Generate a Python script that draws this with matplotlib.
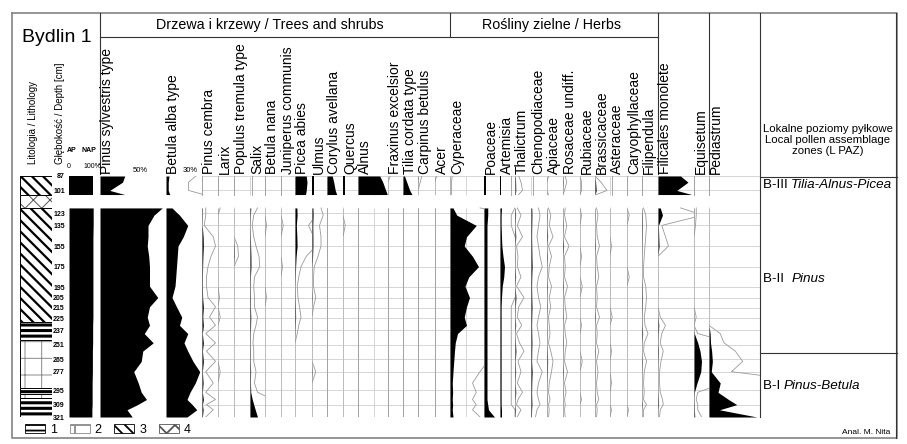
import numpy as np
import matplotlib.pyplot as plt
from matplotlib.patches import Patch

W, H = 907, 444
plt.rcParams['font.family'] = ['Liberation Sans', 'DejaVu Sans']
plt.rcParams['hatch.linewidth'] = 0.9

# sample depths [cm]: upper block 87-105, main block 118-321
depth = [87, 93, 101, 105,
         118, 125, 135, 146, 155, 165, 175, 185, 194, 205, 214, 224,
         232, 240, 249, 257, 267, 277, 288, 297, 304, 309, 314, 321]
blocks = [(0, 4), (4, 28)]
depth_labels = [87, 101, 123, 135, 155, 175, 195, 205, 215, 225, 237, 251,
                265, 277, 295, 309, 321]

ap = [92, 92, 92, 92, 93, 93, 93, 92, 92, 92, 92, 92, 92, 92, 92, 92,
      91, 91, 91, 90, 90, 90, 89, 89, 89, 89, 88, 88]

pinus = [33, 30, 13, 33, 83, 72, 64, 64, 63, 65, 66, 66, 66, 77, 66, 63,
         66, 59, 71, 57, 55, 45, 51, 55, 62, 50, 36, 43]
betula = [4, 3, 3, 5, 8, 18, 29, 23, 16, 15, 14, 13, 12, 8, 14, 21,
          18, 29, 24, 29, 36, 45, 39, 32, 28, 35, 41, 28]
pinus_cembra = [0, 0, 0, 0, 0.5, 0.5, 0.3, 1.5, 1.8, 1.2, 0.8, 0.6, 0.6, 0.8, 1.8, 1.0,
                1.8, 0.5, 1.8, 0.6, 1.8, 0.5, 1.5, 0.5, 1.8, 0.6, 1.5, 0.5]
larix = [0, 0, 0, 0, 0.3, 0, 0, 0, 0, 0, 0, 0, 0, 0.2, 0, 0.3,
         0, 0, 0, 0, 0, 0.3, 0, 0, 0, 0, 0, 0]
populus = [0, 0, 0, 0, 0, 0, 0, 0, 0.5, 0.6, 0, 0, 0, 0, 0, 0,
           0, 0, 0, 0, 0, 0, 0, 0, 0, 0, 0, 0]
salix = [0.3, 0.3, 0.3, 0.3, 1.0, 0.5, 0.3, 0.5, 0.8, 1.2, 1.3, 0.6, 0.5, 0.6, 0.6, 1.0,
         0.8, 0.5, 0.4, 0.5, 0.5, 0.8, 0.6, 1.0, 3, 5, 7, 10]
betula_nana = [0, 0, 0, 0, 0, 0, 0.2, 0, 0, 0, 0, 0, 0, 0.2, 0, 0,
               0, 0, 0, 0, 0, 0, 0, 0, 0, 0, 0, 0]
juniperus = [0, 0, 0, 0, 0, 0, 0.3, 0, 0, 0, 0.2, 0, 0, 0, 0, 0,
             0, 0, 0, 0, 0, 0, 0, 0, 0, 0, 0, 0]
picea = [15, 16, 15, 14, 2.5, 2.8, 1.8, 2.5, 2.8, 1.5, 0.8, 0.5, 0.3, 0.4, 0.6, 0.8,
         0.5, 0.3, 0, 0, 0, 0, 0, 0, 0, 0, 0, 0]
ulmus = [2, 2, 2, 2, 1.2, 1.5, 1.0, 1.2, 1.2, 0.8, 0.3, 0.2, 0.2, 0.5, 0.2, 0,
         0, 0, 0, 0, 0, 0.5, 0, 0, 0, 0, 0, 0]
corylus = [7, 9, 11, 13, 0, 0, 0, 0, 0, 0, 0, 0, 0, 0, 0, 0,
           0, 0, 0, 0, 0, 0, 0, 0, 0, 0, 0, 0]
quercus = [2, 2, 2, 2, 0, 0, 0.3, 0, 0, 0, 0, 0, 0, 0, 0, 0,
           0, 0, 0, 0, 0, 0, 0, 0, 0, 0, 0, 0]
alnus = [29, 33, 37, 39, 0, 0, 0, 0, 0, 0, 0, 0, 0, 0, 0, 0,
         0, 0, 0, 0, 0, 0, 0, 0, 0, 0, 0, 0]
fraxinus = [0.3, 0, 0, 0, 0, 0, 0, 0, 0, 0, 0, 0, 0, 0, 0, 0,
            0, 0, 0, 0, 0, 0, 0, 0, 0, 0, 0, 0]
tilia = [2, 5, 9, 12, 0, 0, 0, 0, 0, 0, 0, 0, 0, 0, 0, 0,
         0, 0, 0, 0, 0, 0, 0, 0, 0, 0, 0, 0]
carpinus = [0.5, 0.3, 0, 0, 0, 0, 0, 0, 0, 0, 0, 0, 0, 0, 0, 0,
            0, 0, 0, 0, 0, 0, 0, 0, 0, 0, 0, 0]
acer = [0.2, 0, 0, 0, 0, 0, 0, 0, 0, 0, 0, 0, 0, 0, 0, 0,
        0, 0, 0, 0, 0, 0, 0, 0, 0, 0, 0, 0]
cyperaceae = [0.3, 0.2, 0.2, 0.2, 4, 9, 35, 22, 19, 30, 38, 25, 20, 26, 22, 19,
              22, 10, 7, 6, 5, 4, 3, 3.5, 3, 3.5, 3, 4]
poaceae = [3, 3, 3, 3, 5, 5, 4, 4, 4, 4, 4, 4, 4, 4, 4, 4,
           4, 4, 4, 4, 4, 4, 4, 4, 4, 5, 6, 14]
artemisia = [1.5, 1.5, 1.5, 1.5, 2, 1.5, 1.5, 2, 2.5, 4, 6, 5, 3, 2, 1.5, 1.5,
             1.5, 1.5, 1.5, 1.5, 1.5, 1.5, 1.5, 1.5, 1.5, 1.5, 2, 2]
thalictrum = [0.5, 0.8, 1.0, 0.5, 0.3, 0.8, 0.3, 1.0, 0.2, 0.4, 0.3, 0.8, 0.2, 1.2, 0.5, 0.3,
              0.9, 0.2, 0.6, 1.2, 0.4, 0.8, 0.3, 1.0, 0.4, 0.2, 0.8, 0.3]
chenopodiaceae = [0.2, 0.2, 0.2, 0.2, 1.0, 1.2, 1.0, 0.8, 1.0, 1.2, 1.5, 1.0, 0.8, 1.0, 1.3, 1.0,
                  0.8, 1.0, 1.2, 1.0, 0.8, 1.5, 1.0, 0.8, 1.0, 1.2, 0.8, 0.6]
apiaceae = [0.2, 0, 0, 0.2, 0.2, 0.5, 0.3, 0.8, 0.2, 0.6, 0.3, 0.2, 0.6, 0.3, 0.5, 0.2,
            0.3, 0.4, 0.2, 0.5, 0.8, 0.6, 0.3, 0.2, 0.4, 0.2, 0.3, 0.2]
rosaceae = [0.3, 0.5, 0.2, 0, 0.3, 0.2, 0.5, 0.2, 0.8, 0.2, 0.3, 0.2, 0.6, 0.2, 0.3, 0.5,
            0.2, 0.3, 0.5, 0.3, 0.2, 0.6, 0.2, 0.4, 0.2, 0.3, 0.2, 0.3]
rubiaceae = [0, 0.2, 0.2, 0, 0, 0.2, 0, 0, 0, 0.2, 0, 0, 0.3, 0, 0, 0,
             0.2, 0, 0, 0, 0.3, 0, 0, 0, 0.2, 0, 0, 0]
brassicaceae = [0, 0.8, 1.6, 0.2, 0.2, 0.4, 0.2, 0.3, 0.6, 0.2, 0.3, 0.5, 0.2, 0.3, 0.2, 0.6,
                0.2, 0.3, 0.2, 0.5, 0.2, 0.4, 0.2, 0.3, 0.5, 0.2, 0.3, 0.2]
asteraceae = [0.2, 0.2, 0.2, 0.2, 0, 0, 0, 0, 0.2, 0, 0, 0, 0, 0, 0, 0.3,
              0, 0, 0, 0.2, 0, 0, 0.2, 0, 0, 0, 0.2, 0]
caryophyllaceae = [0, 0, 0, 0, 0, 0.3, 0, 0, 0, 0, 0, 0.3, 0, 0, 0, 0,
                   0, 0, 0, 0, 0, 0, 0, 0, 0, 0, 0.2, 0]
filipendula = [0, 0, 0, 0, 0.2, 0.5, 0.6, 0.5, 0.4, 0.3, 0.2, 0.2, 0.5, 0.6, 0.5, 0.3,
               0.4, 0.8, 0.3, 0.2, 0.6, 0.3, 0.2, 0.3, 0.2, 0.6, 0.2, 0.2]
filicales = [30, 40, 25, 45, 3, 6, 0.5, 1.0, 1.4, 0, 0, 0, 0, 0, 0, 0.3,
             1.0, 0.5, 0.3, 0.7, 0.4, 0.2, 0.2, 0.3, 0.6, 0.7, 0.3, 0.2]
equisetum = [0, 0, 0, 0, 0.3, 0.3, 0.2, 0, 0, 0, 0, 0, 0, 0, 0, 0.3,
             0, 0.5, 5, 8, 10, 9, 4, 0.5, 0.3, 0.5, 0.5, 1]
pediastrum = [0, 0, 0, 0, 0, 0, 0, 0, 0, 0, 0, 0, 0, 0, 0, 0,
              0, 1.5, 2, 3.5, 4.5, 3, 15, 12, 26, 37, 14, 64]

taxa = [
    ("Pinus sylvestris type", pinus), ("Betula alba type", betula),
    ("Pinus cembra", pinus_cembra), ("Larix", larix),
    ("Populus tremula type", populus), ("Salix", salix),
    ("Betula nana", betula_nana), ("Juniperus communis", juniperus),
    ("Picea abies", picea), ("Ulmus", ulmus), ("Corylus avellana", corylus),
    ("Quercus", quercus), ("Alnus", alnus), ("Fraxinus excelsior", fraxinus),
    ("Tilia cordata type", tilia), ("Carpinus betulus", carpinus),
    ("Acer", acer), ("Cyperaceae", cyperaceae), ("Poaceae", poaceae),
    ("Artemisia", artemisia), ("Thalictrum", thalictrum),
    ("Chenopodiaceae", chenopodiaceae), ("Apiaceae", apiaceae),
    ("Rosaceae undiff.", rosaceae), ("Rubiaceae", rubiaceae),
    ("Brassicaceae", brassicaceae), ("Asteraceae", asteraceae),
    ("Caryophyllaceae", caryophyllaceae), ("Filipendula", filipendula),
    ("Filicales monolete", filicales), ("Equisetum", equisetum),
    ("Pediastrum", pediastrum),
]

# lithology: (top, bottom, type)
litho = [(87, 105, 3), (105, 118, 4), (118, 229, 3), (229, 246, 1),
         (246, 293, 2), (293, 299, 1), (299, 303, 2), (303, 321, 1)]
litho_style = {1: ('black', '---', 2.2), 2: ('#8a8a8a', '+', 0.7),
               3: ('black', '\\\\\\', 1.6), 4: ('#555555', 'xx', 0.7)}

zones = [("B-III ", "Tilia-Alnus-Picea", 96), ("B-II  ", "Pinus", 187),
         ("B-I ", "Pinus-Betula", 291)]

# ---- layout (pixels) ----
col_x = [100, 166, 202, 218, 234, 250, 265, 281, 295, 312, 327, 343, 358,
         388, 403, 418, 435, 450, 484, 500, 515, 531, 547, 563, 580, 595,
         610, 627, 642, 658, 694, 709, 760]
px_per_pct = 0.75
y_top, y_bot = 176, 417
d_top, d_bot = 87, 321


def rect(x0, y0, x1, y1):
    return [x0 / W, 1 - y1 / H, (x1 - x0) / W, (y1 - y0) / H]


fig = plt.figure(figsize=(W / 100, H / 100), dpi=100)

frame = fig.add_axes([0, 0, 1, 1], zorder=-5)
frame.set_xlim(0, W)
frame.set_ylim(H, 0)
frame.axis('off')
frame.plot([12, 897, 897, 12, 12], [13, 13, 438, 438, 13], color='#8c8c8c', lw=1.3)
for xs, ys in [([100, 100], [13, 174]), ([100, 658], [37, 37]), ([450, 450], [13, 37]),
               ([658, 658], [13, 174]), ([709, 709], [13, 174]), ([760, 760], [13, 417]),
               ([760, 897], [177, 177]), ([760, 897], [353, 353]), ([896, 896], [13, 438])]:
    frame.plot(xs, ys, color='#333333', lw=0.8)

grid_c = '#cfcfcf'

# lithology column
axl = fig.add_axes(rect(20, y_top, 52, y_bot))
for top, bot, kind in litho:
    col, hat, hlw = litho_style[kind]
    with plt.rc_context({'hatch.linewidth': hlw}):
        axl.barh((top + bot) / 2, 1, height=bot - top, left=0, facecolor='white',
                 edgecolor=col, hatch=hat, linewidth=0)
    axl.barh((top + bot) / 2, 1, height=bot - top, left=0, facecolor='none',
             edgecolor='black', linewidth=0.7)
axl.set_xlim(0, 1)
axl.set_ylim(d_bot, d_top)
axl.axis('off')

# AP / NAP column with depth labels
axa = fig.add_axes(rect(69, y_top, 95, y_bot))
axa.set_xlim(0, 100)
axa.set_ylim(d_bot, d_top)
for a, b in blocks:
    d = depth[a:b]
    axa.fill_betweenx(d, 0, ap[a:b], color='black', lw=0)
    axa.vlines(100, d[0], d[-1], color='#bbbbbb', lw=0.6)
for s in axa.spines.values():
    s.set_visible(False)
axa.set_xticks([])
axa.set_yticks(depth_labels)
axa.set_yticklabels([str(v) for v in depth_labels], fontsize=5, fontweight='bold')
axa.tick_params(axis='y', length=0, pad=3)

# taxa columns
for i, (name, vals) in enumerate(taxa):
    x0, x1 = col_x[i], col_x[i + 1]
    ax = fig.add_axes(rect(x0, y_top, x1, y_bot))
    xmax = (x1 - x0) / px_per_pct
    ax.set_xlim(0, xmax)
    ax.set_ylim(d_bot, d_top)
    ax.axis('off')
    v = np.array(vals, dtype=float)
    minor = i >= 2
    for a, b in blocks:
        d = depth[a:b]
        if minor:
            ax.vlines(0, d[0], d[-1], color=grid_c, lw=0.6, zorder=0)
            if name in ("Alnus", "Cyperaceae"):
                ax.vlines(20.8, d[0], d[-1], color=grid_c, lw=0.6, zorder=0)
            inside = [g for g in depth_labels if d[0] <= g <= d[-1]]
            ax.hlines(inside, 0, xmax, color=grid_c, lw=0.6, zorder=0)
        ax.plot(v[a:b] * 10, d, color='#9a9a9a', lw=0.6, zorder=2)
        ax.fill_betweenx(d, 0, v[a:b], color='black', lw=0, zorder=3)
    fig.text(x0 / W, 1 - 174 / H, name, rotation=90, ha='left', va='bottom',
             fontsize=10)

# header texts
fig.text(22 / W, 1 - 37 / H, "Bydlin 1", fontsize=14, va='center', ha='left')
fig.text(270 / W, 1 - 25 / H, "Drzewa i krzewy / Trees and shrubs", fontsize=10.3,
         ha='center', va='center')
fig.text(551 / W, 1 - 25 / H, "Rośliny zielne / Herbs", fontsize=10.3,
         ha='center', va='center')
fig.text(28 / W, 1 - 164 / H, "Litologia / Lithology", rotation=90, fontsize=7,
         ha='left', va='bottom')
fig.text(55 / W, 1 - 164 / H, "Głębokość / Depth [cm]", rotation=90, fontsize=7,
         ha='left', va='bottom')
fig.text(67 / W, 1 - 150 / H, "AP", fontsize=5, fontweight='bold', va='center')
fig.text(82 / W, 1 - 150 / H, "NAP", fontsize=5, fontweight='bold', va='center')
fig.text(67 / W, 1 - 166 / H, "0", fontsize=5, va='center')
fig.text(83 / W, 1 - 166 / H, "100%", fontsize=5, va='center')
fig.text(133 / W, 1 - 171 / H, "50%", fontsize=5.5, va='center')
fig.text(183 / W, 1 - 171 / H, "30%", fontsize=5.5, va='center')
fig.text(828 / W, 1 - 140 / H,
         "Lokalne poziomy pyłkowe\nLocal pollen assemblage\nzones (L PAZ)",
         fontsize=8.2, ha='center', va='center', linespacing=1.15)

# zone names
axz = fig.add_axes(rect(760, y_top, 897, y_bot))
axz.set_xlim(0, 1)
axz.set_ylim(d_bot, d_top)
axz.axis('off')
for code, name, d in zones:
    fs = 9.7
    t = axz.text(0.02, d, code, fontsize=fs, va='center', ha='left')
    axz.annotate(name, xy=(1, 0.5), xycoords=t, va='center', ha='left',
                 fontsize=fs, style='italic')

fig.text(890 / W, 1 - 432 / H, "Anal. M. Nita", fontsize=6, ha='right', va='center')

handles = []
for k in (1, 2, 3, 4):
    col, hat, hlw = litho_style[k]
    handles.append(Patch(facecolor='white', edgecolor=col, hatch=hat, linewidth=0.6))
with plt.rc_context({'hatch.linewidth': 1.3}):
    fig.legend(handles, ['1', '2', '3', '4'], loc='center left',
               bbox_to_anchor=(14 / W, 1 - 430 / H), ncol=4, frameon=False, fontsize=9,
               handlelength=1.6, handleheight=0.7, handletextpad=0.4, columnspacing=1.0)

fig.savefig('out.png', dpi=100)
